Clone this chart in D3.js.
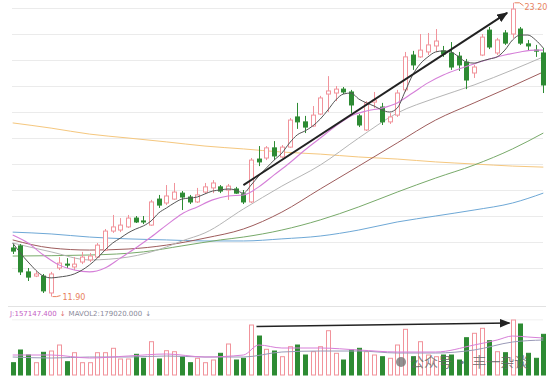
<!DOCTYPE html>
<html>
<head>
<meta charset="utf-8">
<script src="https://cdn.jsdelivr.net/npm/d3@7"></script>
<style>
body { margin: 0; background: #fff; }
svg { display: block; }
</style>
</head>
<body>
<div id="kline"></div>
<script>
// daily bars (price)
var openP  = [13.77,13.85,12.85,12.69,12.69,12.04,13.00,13.15,13.04,13.23,
              13.31,13.42,13.69,14.42,14.46,14.58,14.92,14.81,14.65,15.65,
              15.50,15.65,15.88,15.73,15.54,15.92,16.08,16.12,16.00,16.04,
              15.85,15.54,17.19,17.23,17.62,17.27,17.65,18.81,18.62,18.46,
              18.92,19.69,19.73,19.88,19.77,18.85,18.31,19.38,19.19,18.62,
              18.88,19.85,21.19,21.12,21.31,21.54,21.35,21.27,21.15,20.92,
              20.50,21.19,22.15,21.27,22.04,22.00,22.19,21.62,21.38,21.27];
var closeP = [13.65,12.85,12.65,12.77,12.12,12.77,13.19,13.12,13.15,13.42,
              13.46,13.88,14.42,14.58,14.65,14.92,14.77,14.77,15.54,15.42,
              15.77,15.92,15.73,15.54,15.81,16.12,16.27,15.96,16.15,15.88,
              15.54,17.15,17.08,17.62,17.31,17.65,18.69,18.62,18.42,18.88,
              19.54,19.81,19.88,19.77,19.27,18.50,19.35,19.46,18.62,18.81,
              19.73,21.12,20.81,21.38,21.58,21.73,21.23,20.73,20.81,20.23,
              20.73,21.88,21.50,21.77,21.65,22.96,21.65,21.54,21.35,20.04];
var highP  = [13.92,13.92,13.00,12.88,12.77,12.85,13.42,13.38,13.42,13.62,
              13.58,13.96,14.50,15.04,14.92,15.04,15.00,15.00,15.62,15.81,
              16.19,16.27,15.96,15.81,16.08,16.27,16.38,16.19,16.23,16.12,
              16.00,17.23,17.69,17.69,17.88,17.73,18.77,19.35,18.85,19.23,
              19.62,20.38,20.00,19.96,19.85,18.92,19.42,19.77,19.35,18.96,
              19.85,21.31,21.35,22.00,22.04,22.19,21.54,21.69,21.31,21.04,
              20.81,22.00,22.27,21.85,22.15,23.20,22.27,21.77,21.58,21.46];
var lowP   = [13.54,12.73,12.50,12.65,12.04,11.90,12.92,13.00,12.92,13.15,
              13.23,13.38,13.65,14.35,14.38,14.54,14.73,14.69,14.62,15.31,
              15.42,15.62,15.23,15.46,15.50,15.85,15.88,15.88,15.62,15.85,
              15.46,15.50,16.92,17.15,17.15,17.23,17.62,18.35,18.19,18.42,
              18.88,19.00,19.42,19.69,18.96,18.42,18.27,19.15,18.50,18.54,
              18.81,19.77,20.62,21.08,21.19,21.31,21.12,20.62,20.58,19.88,
              20.31,21.15,21.42,21.19,21.58,21.85,21.58,21.35,21.12,19.73];
// volume, thousand
var volume = [47.5,96.5,77.2,47.5,87.6,92.6,115.8,51.3,86.1,47.5,
              47.5,86.1,86.1,103.1,61.8,61.8,79.9,64.5,128.5,61.8,
              93.8,89.9,70.6,47.5,64.5,47.5,57.9,83.8,119.7,57.9,
              64.5,193.0,150.5,99.2,92.6,70.6,109.2,115.8,77.2,89.9,
              109.2,171.0,83.8,57.9,96.5,103.1,89.9,77.2,70.6,64.5,
              115.8,176.4,70.6,128.5,77.2,70.6,77.2,77.2,57.9,144.0,
              161.0,180.3,132.4,89.9,86.1,212.3,196.9,83.8,64.5,157.1];

// moving averages: [bar index, price]
var ma5 = [[0,13.96],[2,13.23],[4,12.69],[5,12.62],[6,12.65],[8,12.77],[10,13.12],[11,13.38],
           [12,13.69],[13,13.96],[14,14.15],[15,14.35],[16,14.50],[17,14.62],[18,14.81],[19,15.12],
           [20,15.31],[21,15.50],[22,15.65],[23,15.69],[24,15.73],[25,15.85],[26,15.96],[27,16.00],
           [28,16.04],[29,16.00],[30,15.88],[31,16.19],[32,16.54],[33,16.85],[34,17.15],[35,17.42],
           [36,17.81],[37,18.12],[38,18.27],[39,18.46],[40,18.73],[41,19.08],[42,19.46],[43,19.69],
           [44,19.73],[45,19.50],[46,19.35],[47,19.23],[48,19.08],[49,19.00],[50,19.15],[51,19.77],
           [52,20.42],[53,20.85],[54,21.12],[55,21.31],[56,21.35],[57,21.31],[58,21.12],[59,20.92],
           [60,20.88],[61,20.96],[62,21.04],[63,21.12],[64,21.38],[65,21.77],[66,21.96],[67,21.96],
           [68,21.77],[69,21.46]];
var ma10 = [[0,14.27],[2,13.96],[4,13.50],[6,13.12],[8,12.92],[10,12.85],[12,13.00],[14,13.38],
            [16,13.77],[18,14.19],[20,14.65],[22,15.08],[24,15.35],[26,15.62],[28,15.77],[30,15.81],
            [32,16.12],[34,16.58],[36,17.04],[38,17.54],[40,18.00],[42,18.46],[44,18.85],[46,19.04],
            [48,19.15],[50,19.35],[52,19.73],[54,20.12],[56,20.42],[58,20.65],[60,20.85],[62,21.04],
            [64,21.19],[66,21.31],[68,21.38],[69,21.38]];
var ma20 = [[0,13.96],[5,13.62],[10,13.31],[15,13.42],[20,13.81],[22,14.04],[25,14.35],[30,15.27],
            [35,16.15],[40,16.96],[45,18.00],[50,18.96],[55,19.54],[60,20.04],[65,20.62],[69,21.12]];
var ma30 = [[0,14.08],[5,13.77],[10,13.69],[15,13.73],[20,13.88],[25,14.15],[30,14.50],[35,15.15],
            [40,16.04],[45,16.92],[50,17.81],[55,18.69],[60,19.35],[65,20.00],[69,20.54]];
var ma60 = [[0,13.46],[10,13.50],[17,13.62],[22,13.85],[27,14.08],[30,14.19],[35,14.46],[40,14.85],
            [45,15.35],[50,15.92],[55,16.46],[60,16.96],[65,17.58],[69,18.19]];
var ma120 = [[0,14.38],[5,14.31],[10,14.19],[15,14.12],[20,14.08],[25,14.04],[30,14.04],[35,14.12],
             [40,14.23],[45,14.46],[50,14.77],[55,15.00],[60,15.23],[65,15.50],[69,15.88]];
var ma250 = [[0,18.58],[5,18.38],[10,18.15],[15,18.00],[20,17.85],[25,17.69],[30,17.58],[35,17.46],
             [40,17.38],[45,17.27],[50,17.19],[55,17.08],[60,17.00],[65,16.92],[69,16.88]];

var mavol1 = [[0,77.2],[5,77.2],[10,65.6],[15,73.3],[20,81.1],[25,69.5],[30,77.2],[32,115.8],
              [35,104.2],[40,104.2],[45,96.5],[50,88.8],[55,88.8],[60,115.8],[63,135.1],[65,150.5],
              [67,146.7],[69,142.8]];
var mavol2 = [[0,69.5],[5,65.6],[10,69.5],[15,69.5],[20,73.3],[25,69.5],[30,69.5],[35,88.8],
              [40,92.6],[45,92.6],[50,84.9],[55,84.9],[60,96.5],[65,127.4],[69,135.1]];

var priceGrid = [13,14,15,16,17,18,19,20,21,22,23];
var volGrid = [215];

// trend arrows [bar index, value]
var priceArrow = [[30,16.19],[64.3,22.81]];
var volArrow = [[31.7,187.2],[64.6,200.7]];

var svg = d3.select("#kline").append("svg")
    .attr("width", 554)
    .attr("height", 384);

var n = openP.length;
var x = d3.scaleLinear().domain([0, n - 1]).range([12.7, 543.3]);
var y = d3.scaleLinear().domain([12, 23]).range([294, 8]);
var yVol = d3.scaleLinear().domain([0, 200]).range([375, 323.2]);

var upColor = "#f1939b", downColor = "#2d8b33";

var defs = svg.append("defs");
defs.append("marker").attr("id", "head")
    .attr("viewBox", "0 0 10 8").attr("refX", 9).attr("refY", 4)
    .attr("markerWidth", 11).attr("markerHeight", 9)
    .attr("markerUnits", "userSpaceOnUse").attr("orient", "auto")
  .append("path").attr("d", "M0,0 L10,4 L0,8 Z").attr("fill", "#222");

// grid
var grid = svg.append("g").attr("transform", "translate(12,0)")
    .call(d3.axisLeft(y).tickValues(priceGrid).tickSize(-531).tickFormat(""));
grid.select(".domain").remove();
grid.selectAll("line").attr("stroke", "#ebebeb");

var vgrid = svg.append("g").attr("transform", "translate(12,0)")
    .call(d3.axisLeft(yVol).tickValues(volGrid).tickSize(-531).tickFormat(""));
vgrid.select(".domain").remove();
vgrid.selectAll("line").attr("stroke", "#f0f0f0");

svg.append("line").attr("x1", 8).attr("x2", 546).attr("y1", 306.5).attr("y2", 306.5)
    .attr("stroke", "#e2e2e2");

var idx = d3.range(n);
function px(i) { return Math.round(x(i)) + 0.5; }
function isUp(i) { return closeP[i] >= openP[i]; }

// long moving averages
var line = d3.line()
    .x(function(d) { return x(d[0]); })
    .y(function(d) { return y(d[1]); })
    .curve(d3.curveMonotoneX);

var maSet = [
  {data: ma250, color: "#f5c77e"},
  {data: ma120, color: "#6ea8d6"},
  {data: ma60, color: "#78aa6a"},
  {data: ma30, color: "#9e5c5c"},
  {data: ma20, color: "#b5b5b5"}
];
maSet.forEach(function(m) {
  svg.append("path").datum(m.data).attr("d", line)
      .attr("fill", "none").attr("stroke", m.color).attr("stroke-width", 1);
});

// candles
var candle = svg.append("g").selectAll("g").data(idx).enter().append("g");

candle.append("line")
    .attr("x1", px).attr("x2", px)
    .attr("y1", function(i) { return y(highP[i]); })
    .attr("y2", function(i) { return y(Math.max(openP[i], closeP[i])); })
    .attr("stroke", function(i) { return isUp(i) ? upColor : downColor; });
candle.append("line")
    .attr("x1", px).attr("x2", px)
    .attr("y1", function(i) { return y(Math.min(openP[i], closeP[i])); })
    .attr("y2", function(i) { return y(lowP[i]); })
    .attr("stroke", function(i) { return isUp(i) ? upColor : downColor; });
candle.append("rect")
    .attr("x", function(i) { return px(i) - 2; })
    .attr("width", 4)
    .attr("y", function(i) { return y(Math.max(openP[i], closeP[i])); })
    .attr("height", function(i) { return Math.max(1, Math.abs(y(openP[i]) - y(closeP[i]))); })
    .attr("fill", function(i) { return isUp(i) ? "#fff" : downColor; })
    .attr("stroke", function(i) { return isUp(i) ? upColor : downColor; });

svg.append("path").datum(ma10).attr("d", line)
    .attr("fill", "none").attr("stroke", "#d57fd8").attr("stroke-width", 1.1);
svg.append("path").datum(ma5).attr("d", line)
    .attr("fill", "none").attr("stroke", "#555").attr("stroke-width", 1);

// high / low marks
var hiI = d3.maxIndex(highP), loI = d3.minIndex(lowP);
var markColor = "#e8825e";
svg.append("polyline")
    .attr("points", [[px(hiI) + 1, y(highP[hiI])], [px(hiI) + 6, y(highP[hiI])], [px(hiI) + 10, y(highP[hiI]) + 3]].join(" "))
    .attr("fill", "none").attr("stroke", markColor);
svg.append("text").attr("x", px(hiI) + 11).attr("y", y(highP[hiI]) + 7)
    .attr("fill", markColor).style("font-family", "DejaVu Sans").style("font-size", "8px")
    .text(d3.format(".2f")(highP[hiI]));
svg.append("polyline")
    .attr("points", [[px(loI) + 1, y(lowP[loI])], [px(loI) + 5, y(lowP[loI])], [px(loI) + 9, y(lowP[loI]) - 1]].join(" "))
    .attr("fill", "none").attr("stroke", markColor);
svg.append("text").attr("x", px(loI) + 11).attr("y", y(lowP[loI]) + 3)
    .attr("fill", markColor).style("font-family", "DejaVu Sans").style("font-size", "8px")
    .text(d3.format(".2f")(lowP[loI]));

// volume bars
svg.append("g").selectAll("rect").data(idx).enter().append("rect")
    .attr("x", function(i) { return px(i) - 2; })
    .attr("width", 4)
    .attr("y", function(i) { return yVol(volume[i]); })
    .attr("height", function(i) { return yVol(0) - yVol(volume[i]); })
    .attr("fill", function(i) { return isUp(i) ? "#fff" : downColor; })
    .attr("stroke", function(i) { return isUp(i) ? upColor : downColor; });

var vline = d3.line()
    .x(function(d) { return x(d[0]); })
    .y(function(d) { return yVol(d[1]); })
    .curve(d3.curveMonotoneX);
svg.append("path").datum(mavol2).attr("d", vline)
    .attr("fill", "none").attr("stroke", "#9a9ab8").attr("stroke-width", 1);
svg.append("path").datum(mavol1).attr("d", vline)
    .attr("fill", "none").attr("stroke", "#d77fd8").attr("stroke-width", 1);

// volume legend
var legend = svg.append("text").attr("x", 10).attr("y", 316)
    .style("font-family", "DejaVu Sans").style("font-size", "7px");
legend.append("tspan").attr("fill", "#c45cc4").text("J:157147.400");
legend.append("tspan").attr("fill", "#e07070").attr("dx", 3).text("↓");
legend.append("tspan").attr("fill", "#8a8a9a").attr("dx", 3).text("MAVOL2:179020.000");
legend.append("tspan").attr("fill", "#8a8a9a").attr("dx", 3).text("↓");

// arrows
svg.append("line")
    .attr("x1", x(priceArrow[0][0])).attr("y1", y(priceArrow[0][1]))
    .attr("x2", x(priceArrow[1][0])).attr("y2", y(priceArrow[1][1]))
    .attr("stroke", "#222").attr("stroke-width", 2).attr("marker-end", "url(#head)");
svg.append("line")
    .attr("x1", x(volArrow[0][0])).attr("y1", yVol(volArrow[0][1]))
    .attr("x2", x(volArrow[1][0])).attr("y2", yVol(volArrow[1][1]))
    .attr("stroke", "#222").attr("stroke-width", 1.6).attr("marker-end", "url(#head)");

// watermark
var wm = svg.append("g").attr("opacity", 0.8);
wm.append("circle").attr("cx", 401).attr("cy", 362).attr("r", 5).attr("fill", "#777");
wm.append("text").attr("x", 410).attr("y", 367)
    .attr("fill", "#666").style("font-family", "Noto Sans CJK SC").style("font-size", "14px")
    .text("公众号 · 丰一杂谈");
</script>
</body>
</html>
